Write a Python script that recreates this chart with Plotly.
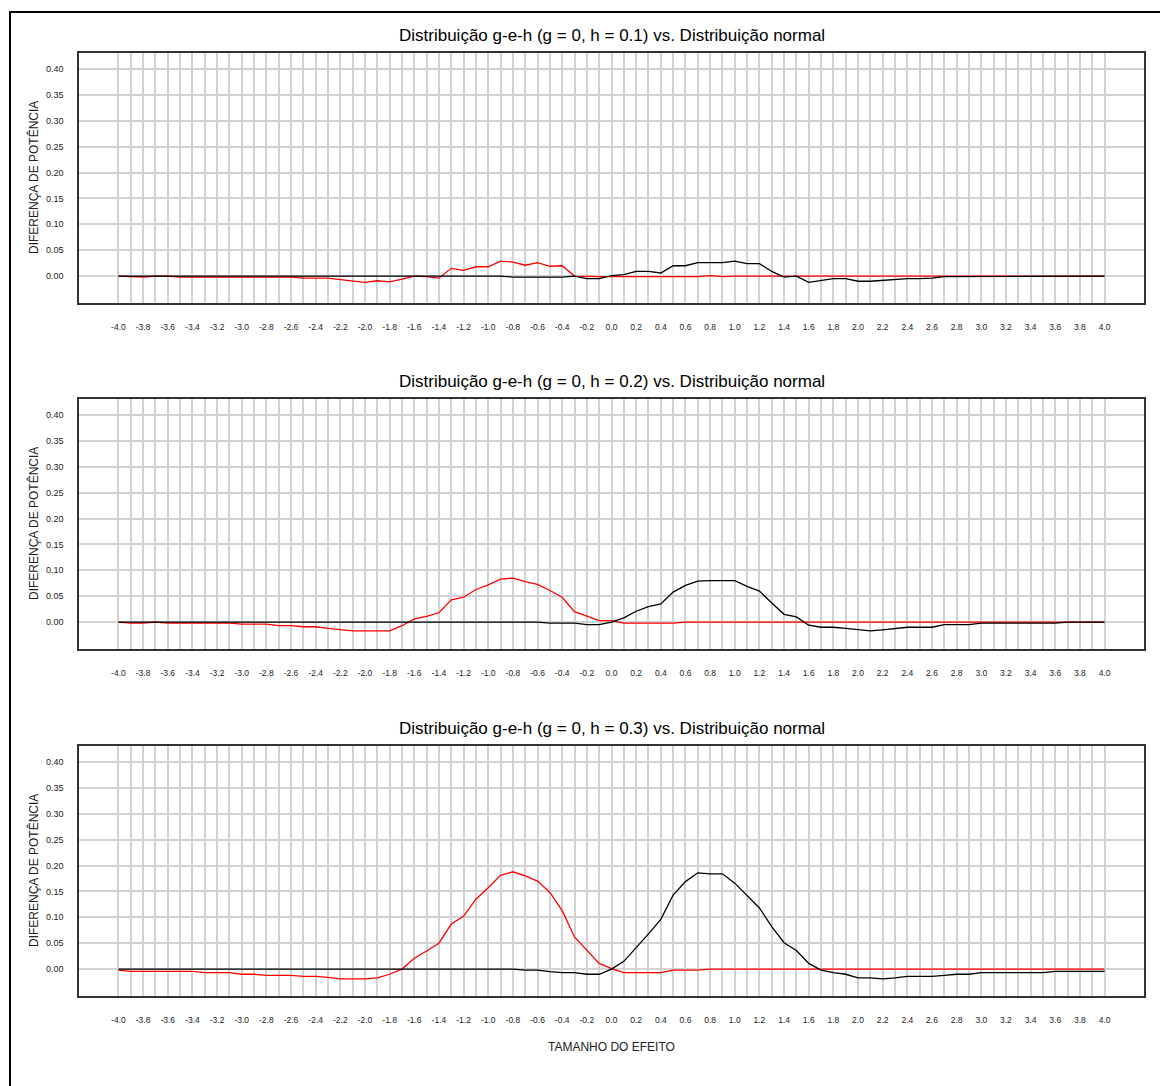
import plotly.graph_objects as go

# ---------------- data ----------------
effect_size = [-4.0, -3.9, -3.8, -3.7, -3.6, -3.5, -3.4, -3.3, -3.2, -3.1,
               -3.0, -2.9, -2.8, -2.7, -2.6, -2.5, -2.4, -2.3, -2.2, -2.1,
               -2.0, -1.9, -1.8, -1.7, -1.6, -1.5, -1.4, -1.3, -1.2, -1.1,
               -1.0, -0.9, -0.8, -0.7, -0.6, -0.5, -0.4, -0.3, -0.2, -0.1,
               0.0, 0.1, 0.2, 0.3, 0.4, 0.5, 0.6, 0.7, 0.8, 0.9,
               1.0, 1.1, 1.2, 1.3, 1.4, 1.5, 1.6, 1.7, 1.8, 1.9,
               2.0, 2.1, 2.2, 2.3, 2.4, 2.5, 2.6, 2.7, 2.8, 2.9,
               3.0, 3.1, 3.2, 3.3, 3.4, 3.5, 3.6, 3.7, 3.8, 3.9, 4.0]

x_tick_labels = ["-4.0", "-3.8", "-3.6", "-3.4", "-3.2", "-3.0", "-2.8", "-2.6", "-2.4",
                 "-2.2", "-2.0", "-1.8", "-1.6", "-1.4", "-1.2", "-1.0", "-0.8", "-0.6",
                 "-0.4", "-0.2", "0.0", "0.2", "0.4", "0.6", "0.8", "1.0", "1.2", "1.4",
                 "1.6", "1.8", "2.0", "2.2", "2.4", "2.6", "2.8", "3.0", "3.2", "3.4",
                 "3.6", "3.8", "4.0"]

y_tick_values = [0.00, 0.05, 0.10, 0.15, 0.20, 0.25, 0.30, 0.35, 0.40]
y_tick_labels = ["0.00", "0.05", "0.10", "0.15", "0.20", "0.25", "0.30", "0.35", "0.40"]

panel_titles = [
    "Distribuição g-e-h (g = 0, h = 0.1) vs. Distribuição normal",
    "Distribuição g-e-h (g = 0, h = 0.2) vs. Distribuição normal",
    "Distribuição g-e-h (g = 0, h = 0.3) vs. Distribuição normal",
]
y_title = "DIFERENÇA DE POTÊNCIA"
x_title = "TAMANHO DO EFEITO"

# h = 0.1
red_h01 = [0.000, -0.001, -0.002, 0.000, 0.000, -0.002, -0.002, -0.002, -0.002, -0.002,
           -0.002, -0.002, -0.002, -0.002, -0.002, -0.004, -0.004, -0.004, -0.007, -0.009,
           -0.012, -0.009, -0.011, -0.006, 0.000, -0.001, -0.004, 0.015, 0.011, 0.018,
           0.018, 0.029, 0.027, 0.021, 0.026, 0.019, 0.020, 0.000, -0.001, -0.001,
           -0.001, -0.001, -0.001, -0.001, -0.001, -0.001, -0.001, -0.001, 0.001, -0.001,
           0.000, 0.000, 0.000, 0.000, 0.000, 0.000, 0.000, 0.000, 0.000, 0.000,
           0.000, 0.000, 0.000, 0.000, 0.000, 0.000, 0.000, 0.000, 0.000, 0.000,
           0.000, 0.000, 0.000, 0.000, 0.000, 0.000, 0.000, 0.000, 0.000, 0.000, 0.000]
black_h01 = [0.000, 0.000, 0.000, 0.000, 0.000, 0.000, 0.000, 0.000, 0.000, 0.000,
             0.000, 0.000, 0.000, 0.000, 0.000, 0.000, 0.000, 0.000, 0.000, 0.000,
             0.000, 0.000, 0.000, 0.000, 0.000, 0.000, 0.000, 0.000, 0.000, 0.000,
             0.000, 0.000, -0.002, -0.002, -0.002, -0.002, -0.002, 0.000, -0.005, -0.005,
             0.001, 0.003, 0.009, 0.009, 0.006, 0.020, 0.020, 0.026, 0.026, 0.026,
             0.029, 0.024, 0.024, 0.009, -0.002, 0.000, -0.012, -0.009, -0.005, -0.005,
             -0.010, -0.010, -0.008, -0.007, -0.005, -0.005, -0.004, -0.001, -0.001, -0.001,
             -0.001, -0.001, -0.001, -0.001, -0.001, -0.001, 0.000, 0.000, 0.000, 0.000, 0.000]

# h = 0.2
red_h02 = [0.000, -0.002, -0.002, 0.000, -0.002, -0.002, -0.002, -0.002, -0.002, -0.002,
           -0.004, -0.004, -0.004, -0.007, -0.007, -0.009, -0.009, -0.012, -0.015, -0.017,
           -0.017, -0.017, -0.017, -0.007, 0.006, 0.011, 0.018, 0.043, 0.048, 0.063,
           0.072, 0.083, 0.085, 0.078, 0.073, 0.061, 0.048, 0.020, 0.012, 0.003,
           0.003, -0.002, -0.002, -0.002, -0.002, -0.002, 0.000, 0.000, 0.000, 0.000,
           0.000, 0.000, 0.000, 0.000, 0.000, 0.000, 0.000, 0.000, 0.000, 0.000,
           0.000, 0.000, 0.000, 0.000, 0.000, 0.000, 0.000, 0.000, 0.000, 0.000,
           0.000, 0.000, 0.000, 0.000, 0.000, 0.000, 0.000, 0.000, 0.000, 0.000, 0.000]
black_h02 = [0.000, 0.000, 0.000, 0.000, 0.000, 0.000, 0.000, 0.000, 0.000, 0.000,
             0.000, 0.000, 0.000, 0.000, 0.000, 0.000, 0.000, 0.000, 0.000, 0.000,
             0.000, 0.000, 0.000, 0.000, 0.000, 0.000, 0.000, 0.000, 0.000, 0.000,
             0.000, 0.000, 0.000, 0.000, 0.000, -0.002, -0.002, -0.002, -0.005, -0.005,
             0.000, 0.008, 0.021, 0.030, 0.035, 0.058, 0.071, 0.079, 0.080, 0.080,
             0.080, 0.069, 0.060, 0.037, 0.015, 0.010, -0.006, -0.010, -0.010, -0.012,
             -0.015, -0.017, -0.015, -0.012, -0.010, -0.010, -0.010, -0.005, -0.005, -0.005,
             -0.002, -0.002, -0.002, -0.002, -0.002, -0.002, -0.002, 0.000, 0.000, 0.000, 0.000]

# h = 0.3
red_h03 = [-0.002, -0.0045, -0.0045, -0.0045, -0.0045, -0.0045, -0.0045, -0.007, -0.007, -0.007,
           -0.010, -0.010, -0.012, -0.012, -0.012, -0.014, -0.014, -0.016, -0.019, -0.019,
           -0.019, -0.017, -0.010, 0.000, 0.021, 0.035, 0.050, 0.087, 0.102, 0.135,
           0.157, 0.181, 0.188, 0.180, 0.170, 0.148, 0.113, 0.062, 0.036, 0.011,
           0.001, -0.007, -0.007, -0.007, -0.007, -0.002, -0.002, -0.002, 0.000, 0.000,
           0.000, 0.000, 0.000, 0.000, 0.000, 0.000, 0.000, 0.000, 0.000, 0.000,
           0.000, 0.000, 0.000, 0.000, 0.000, 0.000, 0.000, 0.000, 0.000, 0.000,
           0.000, 0.000, 0.000, 0.000, 0.000, 0.000, 0.000, 0.000, 0.000, 0.000, 0.000]
black_h03 = [0.000, 0.000, 0.000, 0.000, 0.000, 0.000, 0.000, 0.000, 0.000, 0.000,
             0.000, 0.000, 0.000, 0.000, 0.000, 0.000, 0.000, 0.000, 0.000, 0.000,
             0.000, 0.000, 0.000, 0.000, 0.000, 0.000, 0.000, 0.000, 0.000, 0.000,
             0.000, 0.000, 0.000, -0.002, -0.002, -0.005, -0.007, -0.007, -0.010, -0.010,
             0.000, 0.015, 0.041, 0.068, 0.096, 0.143, 0.169, 0.186, 0.184, 0.184,
             0.166, 0.143, 0.118, 0.082, 0.051, 0.036, 0.011, -0.002, -0.007, -0.010,
             -0.017, -0.017, -0.019, -0.017, -0.014, -0.014, -0.014, -0.012, -0.010, -0.010,
             -0.007, -0.007, -0.007, -0.007, -0.007, -0.007, -0.0045, -0.0045, -0.0045, -0.0045, -0.0045]

red_series = [red_h01, red_h02, red_h03]
black_series = [black_h01, black_h02, black_h03]

# ---------------- layout ----------------
W, H = 1160, 1086
box_left, box_right = 79, 1144
box_tops = [53.0, 399.0, 746.0]
box_bottoms = [303.0, 649.0, 996.0]
title_y = [35.5, 381.5, 728.5]

x_ticktext = []
for i, v in enumerate(effect_size):
    x_ticktext.append(x_tick_labels[i // 2] if i % 2 == 0 else "")

font_family = "Liberation Sans, Arial, sans-serif"

fig = go.Figure()
layout = dict(
    width=W, height=H,
    margin=dict(l=0, r=0, t=0, b=0),
    paper_bgcolor="white", plot_bgcolor="white",
    showlegend=False,
    font=dict(family=font_family, color="#222222"),
)
annotations = []
for k in range(3):
    sfx = "" if k == 0 else str(k + 1)
    xa, ya = "x" + sfx, "y" + sfx
    fig.add_trace(go.Scatter(x=effect_size, y=red_series[k], mode="lines",
                             line=dict(color="#ff0000", width=1.3),
                             xaxis=xa, yaxis=ya))
    fig.add_trace(go.Scatter(x=effect_size, y=black_series[k], mode="lines",
                             line=dict(color="#000000", width=1.3),
                             xaxis=xa, yaxis=ya))
    layout["xaxis" + sfx] = dict(
        domain=[box_left / W, box_right / W], anchor=ya,
        range=[-4.32, 4.32], tickvals=effect_size, ticktext=x_ticktext,
        showgrid=True, gridcolor="#d3d3d3", gridwidth=1.5,
        showline=True, mirror=True, linecolor="#333333", linewidth=1.5,
        zeroline=False, ticks="", ticklabelstandoff=15,
        tickfont=dict(size=8.5, color="#222222", family=font_family),
        fixedrange=True,
    )
    layout["yaxis" + sfx] = dict(
        domain=[1 - box_bottoms[k] / H, 1 - box_tops[k] / H], anchor=xa,
        range=[-0.052, 0.431], tickvals=y_tick_values, ticktext=y_tick_labels,
        showgrid=True, gridcolor="#d3d3d3", gridwidth=1.5,
        showline=True, mirror=True, linecolor="#333333", linewidth=1.5,
        zeroline=False, ticks="", ticklabelstandoff=12,
        tickfont=dict(size=9, color="#222222", family=font_family),
        fixedrange=True,
    )
    annotations.append(dict(
        text=panel_titles[k], xref="paper", yref="paper",
        x=(box_left + box_right) / 2 / W, y=1 - title_y[k] / H,
        xanchor="center", yanchor="middle", showarrow=False,
        font=dict(size=17, color="#000000", family=font_family),
    ))
    annotations.append(dict(
        text=y_title, xref="paper", yref="paper",
        x=33 / W, y=1 - (box_tops[k] + box_bottoms[k]) / 2 / H,
        xanchor="center", yanchor="middle", showarrow=False, textangle=-90,
        font=dict(size=12, color="#222222", family=font_family),
    ))

annotations.append(dict(
    text=x_title, xref="paper", yref="paper",
    x=(box_left + box_right) / 2 / W, y=1 - 1047 / H,
    xanchor="center", yanchor="middle", showarrow=False,
    font=dict(size=12, color="#222222", family=font_family),
))
layout["annotations"] = annotations
layout["shapes"] = [dict(
    type="rect", xref="paper", yref="paper",
    x0=10 / W, x1=1.05, y0=-0.05, y1=1 - 12 / H,
    line=dict(color="#000000", width=2), fillcolor="rgba(0,0,0,0)", layer="above",
)]
fig.update_layout(**layout)
fig.write_html("out.html")
